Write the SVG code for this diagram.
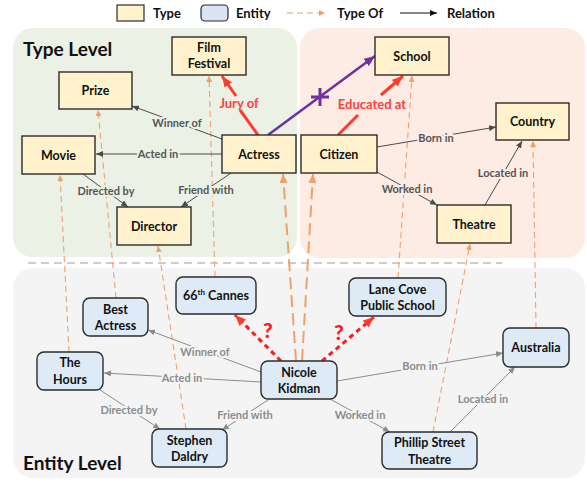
<svg xmlns="http://www.w3.org/2000/svg" width="587" height="482" viewBox="0 0 587 482">
<defs>
<style>
.type{fill:#fff2cc;stroke:#2b2b2b;stroke-width:1.4}
.ent{fill:#deeaf6;stroke:#2b2b2b;stroke-width:1.4}
.nt{font-family:Lato,"Open Sans",sans-serif;font-weight:bold;font-size:12.5px;fill:#111;text-anchor:middle}
.rel{stroke:#4a4a4a;stroke-width:1;fill:none}
.erel{stroke:#8c8c8c;stroke-width:1;fill:none}
.tof{stroke:#f2a06a;stroke-width:1.1;stroke-dasharray:6 4;fill:none}
.tofb{stroke:#f2a06a;stroke-width:2;stroke-dasharray:12 6;fill:none}
.rl{font-family:Lato,"Open Sans",sans-serif;font-weight:bold;font-size:11px;fill:#555;text-anchor:middle;paint-order:stroke;stroke-width:4;stroke-linejoin:round}
.erl{font-family:Lato,"Open Sans",sans-serif;font-weight:bold;font-size:11px;fill:#8c8c8c;text-anchor:middle;paint-order:stroke;stroke:#f4f4f4;stroke-width:4;stroke-linejoin:round}
.red{font-family:Lato,"Open Sans",sans-serif;font-weight:bold;font-size:13px;fill:#ff4040;text-anchor:middle}
.q{font-family:Lato,"Open Sans",sans-serif;font-weight:900;font-size:21px;fill:#ff1a1a;text-anchor:middle}
.lvl{font-family:Lato,"Open Sans",sans-serif;font-weight:bold;font-size:19px;fill:#111}
.leg{font-family:Lato,"Open Sans",sans-serif;font-weight:bold;font-size:13px;fill:#111}
</style>
<marker id="aD" markerWidth="7" markerHeight="6" refX="7" refY="3" orient="auto" markerUnits="userSpaceOnUse"><path d="M0,0 L7,3 L0,6 z" fill="#4a4a4a"/></marker>
<marker id="aG" markerWidth="7" markerHeight="6" refX="7" refY="3" orient="auto" markerUnits="userSpaceOnUse"><path d="M0,0 L7,3 L0,6 z" fill="#8c8c8c"/></marker>
<marker id="aO" markerWidth="6" markerHeight="6" refX="6" refY="3" orient="auto" markerUnits="userSpaceOnUse"><path d="M0,0 L6,3 L0,6 z" fill="#f2a06a"/></marker>
<marker id="aOb" markerWidth="9" markerHeight="8" refX="9" refY="4" orient="auto" markerUnits="userSpaceOnUse"><path d="M0,0 L9,4 L0,8 z" fill="#f2a06a"/></marker>
<marker id="aR" markerWidth="11" markerHeight="9" refX="11" refY="4.5" orient="auto" markerUnits="userSpaceOnUse"><path d="M0,0 L11,4.5 L0,9 z" fill="#ff3b30"/></marker>
<marker id="aP" markerWidth="11" markerHeight="9" refX="11" refY="4.5" orient="auto" markerUnits="userSpaceOnUse"><path d="M0,0 L11,4.5 L0,9 z" fill="#7030a0"/></marker>
<marker id="aK" markerWidth="7" markerHeight="6" refX="7" refY="3" orient="auto" markerUnits="userSpaceOnUse"><path d="M0,0 L7,3 L0,6 z" fill="#111"/></marker>
</defs>
<rect width="587" height="482" fill="#ffffff"/>

<!-- panels -->
<g id="panels">
<rect x="13" y="28" width="284" height="229" rx="20" fill="#ebf2e5"/>
<rect x="300" y="28" width="285" height="230" rx="20" fill="#fcece3"/>
<rect x="13" y="268" width="572" height="210" rx="20" fill="#f4f4f4"/>
<line x1="28" y1="263" x2="502" y2="263" stroke="#bdbdbd" stroke-width="1.5" stroke-dasharray="8 5"/>
<text class="lvl" x="23" y="56">Type Level</text>
<text class="lvl" x="23" y="470">Entity Level</text>
</g>

<!-- legend -->
<g id="legend">
<rect x="117" y="5" width="27" height="16" fill="#fff2cc" stroke="#2b2b2b" stroke-width="1.2"/>
<text class="leg" x="153" y="18">Type</text>
<rect x="201" y="5" width="27" height="16" rx="4" fill="#dae3f3" stroke="#2b2b2b" stroke-width="1.2"/>
<text class="leg" x="236" y="18">Entity</text>
<line x1="287" y1="13" x2="325" y2="13" class="tof" marker-end="url(#aO)"/>
<text class="leg" x="337" y="18">Type Of</text>
<line x1="400" y1="13" x2="437" y2="13" stroke="#111" stroke-width="1" marker-end="url(#aK)"/>
<text class="leg" x="447" y="18">Relation</text>
</g>

<!-- connectors -->
<g id="connectors">
<!-- type-of dashed -->
<line class="tof" x1="69" y1="352" x2="60" y2="175" marker-end="url(#aO)"/>
<line class="tof" x1="116" y1="298" x2="98" y2="110" marker-end="url(#aO)"/>
<line class="tof" x1="186" y1="429" x2="158" y2="246" marker-end="url(#aO)"/>
<line class="tof" x1="215" y1="277" x2="209" y2="76" marker-end="url(#aO)"/>
<line class="tof" x1="398" y1="278" x2="412" y2="76" marker-end="url(#aO)"/>
<line class="tof" x1="433" y1="432" x2="470" y2="244" marker-end="url(#aO)"/>
<line class="tof" x1="536" y1="328" x2="533" y2="141" marker-end="url(#aO)"/>
<line class="tofb" x1="296" y1="361" x2="283" y2="174" marker-end="url(#aOb)"/>
<line class="tofb" x1="302" y1="361" x2="313" y2="174" marker-end="url(#aOb)"/>

<!-- type-level relations -->
<line class="rel" x1="222" y1="139" x2="132" y2="106" marker-end="url(#aD)"/>
<text class="rl" stroke="#ebf2e5" x="177" y="127">Winner of</text>
<line class="rel" x1="222" y1="154" x2="96" y2="154" marker-end="url(#aD)"/>
<text class="rl" stroke="#ebf2e5" x="158" y="158">Acted in</text>
<line class="rel" x1="83" y1="174" x2="128" y2="207" marker-end="url(#aD)"/>
<text class="rl" stroke="#ebf2e5" x="106" y="195">Directed by</text>
<line class="rel" x1="231" y1="173" x2="181" y2="207" marker-end="url(#aD)"/>
<text class="rl" stroke="#ebf2e5" x="206" y="194">Friend with</text>
<line class="rel" x1="377" y1="147" x2="496" y2="127" marker-end="url(#aD)"/>
<text class="rl" stroke="#fcece3" x="436" y="142">Born in</text>
<line class="rel" x1="377" y1="172" x2="437" y2="205" marker-end="url(#aD)"/>
<text class="rl" stroke="#fcece3" x="407" y="193">Worked in</text>
<line class="rel" x1="485" y1="205" x2="522" y2="141" marker-end="url(#aD)"/>
<text class="rl" stroke="#fcece3" x="503" y="177">Located in</text>

<!-- red type relations -->
<line x1="258" y1="135" x2="240" y2="110" stroke="#ff3b30" stroke-width="3"/>
<line x1="236" y1="96" x2="222" y2="76" stroke="#ff3b30" stroke-width="3" marker-end="url(#aR)"/>
<text class="red" x="239" y="108">Jury of</text>
<line x1="338" y1="135" x2="358" y2="115" stroke="#ff3b30" stroke-width="3"/>
<line x1="381" y1="95" x2="403" y2="76" stroke="#ff3b30" stroke-width="3" marker-end="url(#aR)"/>
<text class="red" x="372" y="109">Educated at</text>

<!-- purple -->
<line x1="268" y1="135" x2="375" y2="56" stroke="#7030a0" stroke-width="2.5" marker-end="url(#aP)"/>
<path d="M320,88 V106 M311,97 H329" stroke="#7030a0" stroke-width="3" fill="none"/>

<!-- entity relations -->
<line class="erel" x1="261" y1="372" x2="148" y2="330" marker-end="url(#aG)"/>
<text class="erl" x="205" y="356">Winner of</text>
<line class="erel" x1="261" y1="382" x2="104" y2="373" marker-end="url(#aG)"/>
<text class="erl" x="182" y="382">Acted in</text>
<line class="erel" x1="100" y1="390" x2="160" y2="429" marker-end="url(#aG)"/>
<text class="erl" x="129" y="414">Directed by</text>
<line class="erel" x1="268" y1="400" x2="222" y2="430" marker-end="url(#aG)"/>
<text class="erl" x="245" y="419">Friend with</text>
<line class="erel" x1="337" y1="381" x2="503" y2="353" marker-end="url(#aG)"/>
<text class="erl" x="420" y="370">Born in</text>
<line class="erel" x1="330" y1="399" x2="390" y2="432" marker-end="url(#aG)"/>
<text class="erl" x="360" y="419">Worked in</text>
<line class="erel" x1="450" y1="432" x2="515" y2="367" marker-end="url(#aG)"/>
<text class="erl" x="483" y="403">Located in</text>

<!-- red dashed question arrows -->
<line x1="281" y1="361" x2="235" y2="315" stroke="#ff1a1a" stroke-width="3" stroke-dasharray="5 4" marker-end="url(#aR)"/>
<line x1="322" y1="361" x2="374" y2="317" stroke="#ff1a1a" stroke-width="3" stroke-dasharray="5 4" marker-end="url(#aR)"/>
<text class="q" x="268" y="338">?</text>
<text class="q" x="339" y="340">?</text>
</g>

<!-- type nodes -->
<g id="n-filmfestival"><rect class="type" x="172" y="37" width="74" height="38"/><text class="nt" x="209" y="52">Film</text><text class="nt" x="209" y="68">Festival</text></g>
<g id="n-prize"><rect class="type" x="59" y="72" width="73" height="37"/><text class="nt" x="95.5" y="95">Prize</text></g>
<g id="n-movie"><rect class="type" x="22" y="136" width="73" height="38"/><text class="nt" x="58.5" y="160">Movie</text></g>
<g id="n-actress"><rect class="type" x="222" y="135" width="74" height="38"/><text class="nt" x="259" y="159">Actress</text></g>
<g id="n-director"><rect class="type" x="117" y="207" width="74" height="38"/><text class="nt" x="154" y="231">Director</text></g>
<g id="n-school"><rect class="type" x="375" y="37" width="74" height="38"/><text class="nt" x="412" y="61">School</text></g>
<g id="n-country"><rect class="type" x="496" y="103" width="73" height="37"/><text class="nt" x="532.5" y="126">Country</text></g>
<g id="n-citizen"><rect class="type" x="301" y="135" width="76" height="38"/><text class="nt" x="339" y="159">Citizen</text></g>
<g id="n-theatre"><rect class="type" x="437" y="205" width="74" height="38"/><text class="nt" x="474" y="229">Theatre</text></g>

<!-- entity nodes -->
<g id="e-cannes"><rect class="ent" x="176" y="277" width="80" height="37" rx="7"/><text class="nt" x="216" y="300">66<tspan dy="-5" style="font-size:8px">th</tspan><tspan dy="5"> Cannes</tspan></text></g>
<g id="e-bestactress"><rect class="ent" x="83" y="298" width="65" height="38" rx="7"/><text class="nt" x="115.5" y="314">Best</text><text class="nt" x="115.5" y="330">Actress</text></g>
<g id="e-thehours"><rect class="ent" x="37" y="352" width="66" height="38" rx="7"/><text class="nt" x="70" y="367">The</text><text class="nt" x="70" y="384">Hours</text></g>
<g id="e-stephen"><rect class="ent" x="152" y="429" width="75" height="38" rx="7"/><text class="nt" x="189.5" y="445">Stephen</text><text class="nt" x="189.5" y="461">Daldry</text></g>
<g id="e-nicole"><rect class="ent" x="261" y="361" width="76" height="38" rx="7"/><text class="nt" x="299" y="377">Nicole</text><text class="nt" x="299" y="393">Kidman</text></g>
<g id="e-lanecove"><rect class="ent" x="349" y="278" width="97" height="38" rx="7"/><text class="nt" x="397.5" y="294">Lane Cove</text><text class="nt" x="397.5" y="310">Public School</text></g>
<g id="e-australia"><rect class="ent" x="503" y="328" width="66" height="39" rx="7"/><text class="nt" x="536" y="352">Australia</text></g>
<g id="e-phillip"><rect class="ent" x="382" y="432" width="95" height="37" rx="7"/><text class="nt" x="429.5" y="447">Phillip Street</text><text class="nt" x="429.5" y="464">Theatre</text></g>
</svg>
